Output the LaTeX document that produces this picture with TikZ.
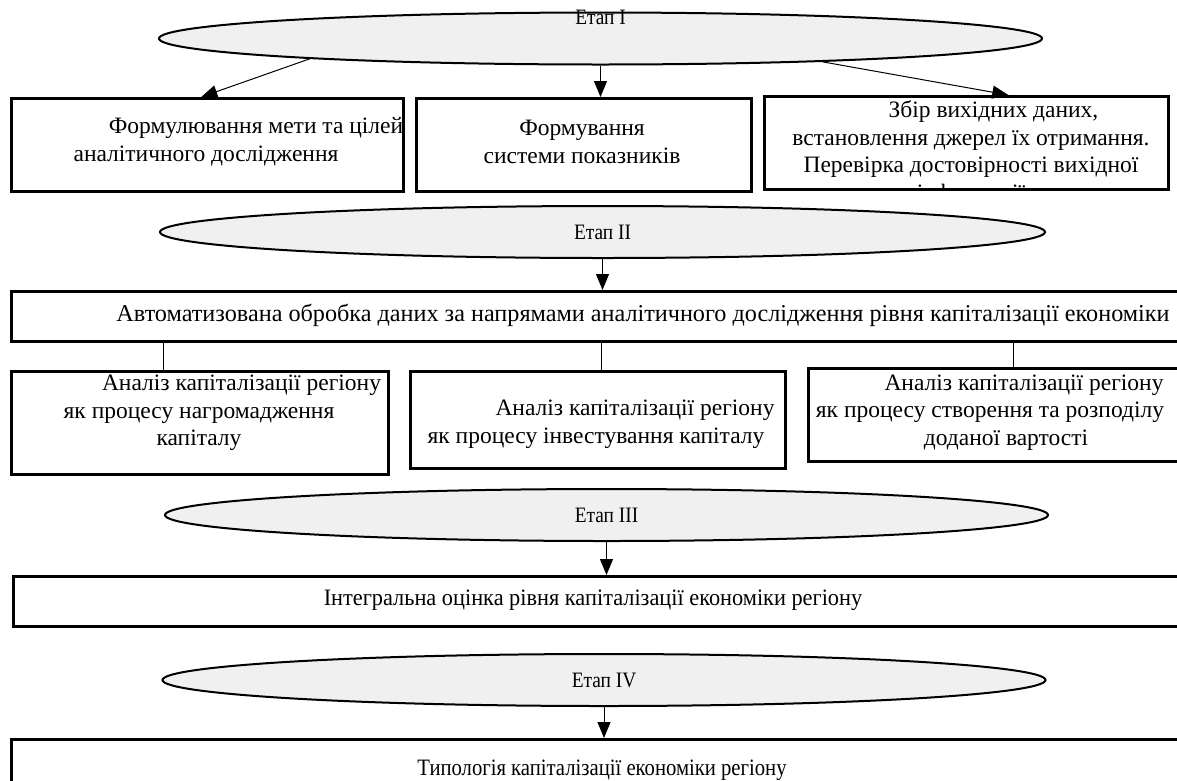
\documentclass[tikz,border=0pt]{standalone}
\usepackage{fontspec}
\setmainfont{Liberation Serif}
\usetikzlibrary{arrows.meta,shapes.geometric,calc}
\newcommand{\stg}[1]{\scalebox{0.88}[1]{#1}}
\begin{document}
\begin{tikzpicture}[x=1pt,y=-1pt,
  box/.style={draw, line width=2.6pt, inner sep=0pt, anchor=north west},
  stagefont/.style={font=\fontsize{22}{24}\selectfont},
  stage/.style={ellipse, draw, line width=2pt, fill=black!6, inner sep=0pt,
    minimum width=883pt, minimum height=52pt, stagefont},
  txt/.style={font=\fontsize{23.5}{27.6}\selectfont, align=center, inner sep=0pt},
  arr/.style={-{Triangle[length=16pt,width=13pt]}, line width=1pt},
  conn/.style={line width=1pt}]
\useasboundingbox (0,0) rectangle (1177,780);

% stages
\node[stage, label={[stagefont, yshift=21pt]center:\stg{Етап І}}] (e1) at (600.5,38.5) {};
\node[stage, minimum width=885pt] (e2) at (602.5,232) {\stg{Етап ІІ}};
\node[stage] (e3) at (606.5,515) {\stg{Етап ІІІ}};
\node[stage] (e4) at (604,680) {\stg{Етап IV}};

% row 1
\node[box, minimum width=392pt, minimum height=93pt] (b1) at (10,97) {};
\node[box, minimum width=335pt, minimum height=93pt] (b2) at (415,97) {};
\node[box, minimum width=404pt, minimum height=93pt] (b3) at (763,95) {};
\node[txt] (t1) at (206,142) {\hspace*{100pt}Формулювання мети та цілей\\аналітичного дослідження};
\node[txt] (t2) at (582,142) {Формування\\системи показників};
\begin{scope}
\clip (b3.north west) rectangle (b3.south east);
\node[txt] (t3) at (971,153) {\hspace*{45pt}Збір вихідних даних,\\встановлення джерел їх отримання.\\Перевірка достовірності вихідної\\інформації};
\end{scope}

% automated processing
\node[box, minimum width=1266pt, minimum height=50pt] (auto) at (10,290) {};
\node[txt, font=\fontsize{24.2}{27.6}\selectfont] (tauto) at (643,315) {Автоматизована обробка даних за напрямами аналітичного дослідження рівня капіталізації економіки};

% row 2
\node[box, minimum width=377pt, minimum height=103pt] (bA) at (10,370) {};
\node[box, minimum width=375pt, minimum height=97pt] (bB) at (409,370) {};
\node[box, minimum width=390pt, minimum height=93pt] (bC) at (807,367) {};
\node[txt] (tA) at (199,413) {\hspace*{85pt}Аналіз капіталізації регіону\\як процесу нагромадження\\капіталу};
\node[txt] (tB) at (596,424) {\hspace*{78pt}Аналіз капіталізації регіону\\як процесу інвестування капіталу};
\node[txt] (tC) at (990,412.5) {\hspace*{68pt}Аналіз капіталізації регіону\\як процесу створення та розподілу\\\hspace*{32pt}доданої вартості};

% integral and typology
\node[box, minimum width=1180pt, minimum height=50pt] (integ) at (12,575) {};
\node[txt] (tinteg) at (593,600) {\scalebox{0.95}[1]{Інтегральна оцінка рівня капіталізації економіки регіону}};
\node[box, minimum width=1185pt, minimum height=60pt] (typ) at (10,738) {};
\node[txt] (ttyp) at (602,770) {\scalebox{0.88}[1]{Типологія капіталізації економіки регіону}};

% connectors
\draw[arr] (e1.184) -- ([xshift=-6pt]b1.north);
\draw[arr] (e1.south) -- (e1.south |- b2.north);
\draw[arr] (e1.354) -- ([xshift=42pt]b3.north);
\draw[arr] (e2.south) -- (e2.south |- auto.north);
\draw[conn] ([xshift=-36pt]bA.north) -- ([xshift=-36pt]bA.north |- auto.south);
\draw[conn] ([xshift=4pt]bB.north) -- ([xshift=4pt]bB.north |- auto.south);
\draw[conn] ([xshift=10pt]bC.north) -- ([xshift=10pt]bC.north |- auto.south);
\draw[arr] (e3.south) -- (e3.south |- integ.north);
\draw[arr] (e4.south) -- (e4.south |- typ.north);
\end{tikzpicture}
\end{document}
